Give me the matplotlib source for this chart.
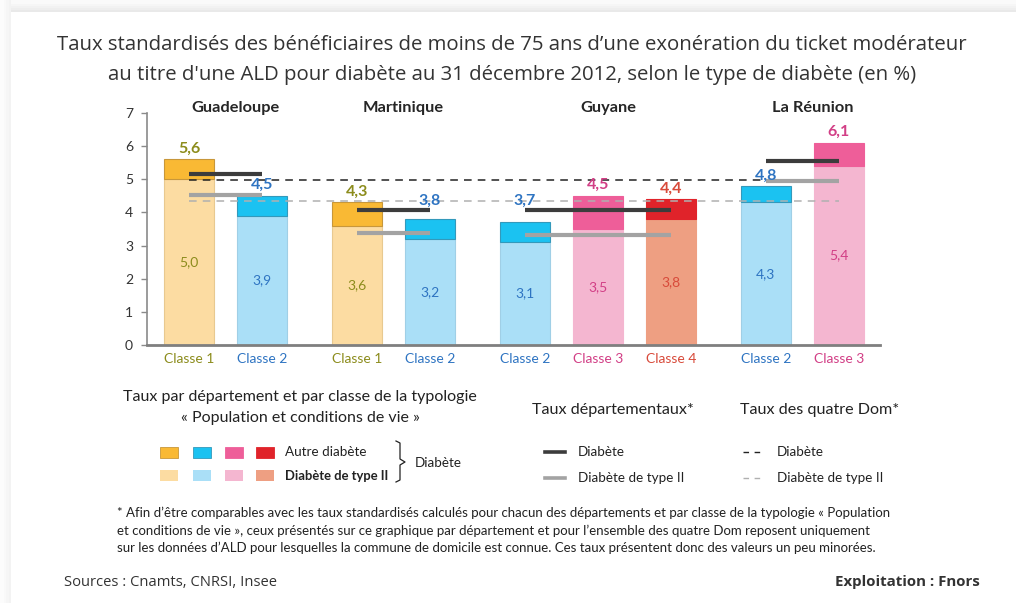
import matplotlib
matplotlib.use("Agg")
import matplotlib.pyplot as plt
from matplotlib.lines import Line2D
from matplotlib.patches import Rectangle

# ---------------- data ----------------
departements = ["Guadeloupe", "Martinique", "Guyane", "La Réunion"]
classes_par_dept = [[1, 2], [1, 2], [2, 3, 4], [2, 3]]
taux_diabete = [[5.6, 4.5], [4.3, 3.8], [3.7, 4.5, 4.4], [4.8, 6.1]]
taux_type2 = [[5.0, 3.9], [3.6, 3.2], [3.1, 3.5, 3.8], [4.3, 5.4]]
labels_diabete = [["5,6", "4,5"], ["4,3", "3,8"], ["3,7", "4,5", "4,4"], ["4,8", "6,1"]]
labels_type2 = [["5,0", "3,9"], ["3,6", "3,2"], ["3,1", "3,5", "3,8"], ["4,3", "5,4"]]
dept_diabete = [5.15, 4.07, 4.08, 5.55]
dept_type2 = [4.54, 3.39, 3.33, 4.94]
dom_diabete = 4.97
dom_type2 = 4.33
yticks = [0, 1, 2, 3, 4, 5, 6, 7]

# ---------------- styles ----------------
dark_col = {1: "#F9B934", 2: "#1BC2F1", 3: "#EE5E99", 4: "#E0232A"}
light_col = {1: "#FCDCA2", 2: "#AADFF7", 3: "#F4B6D0", 4: "#EE9F82"}
dark_edge = {1: "#C8973A", 2: "#3399BB", 3: "#EE5E99", 4: "#E0232A"}
light_edge = {1: "#E8C990", 2: "#A0CFE6", 3: "#F4B6D0", 4: "#EE9F82"}
text_col = {1: "#8C8C1C", 2: "#2E74C2", 3: "#D23F86", 4: "#D84A3A"}

W, H = 1016, 603
fig = plt.figure(figsize=(W / 100, H / 100), dpi=100)
fig.patch.set_facecolor("white")


def fx(x):
    return x / W


def fy(y):
    return 1 - y / H


# card shadow
for i, c in enumerate(["#e9e9e9", "#eeeeee", "#f2f2f2", "#f6f6f6", "#fafafa"]):
    fig.patches.append(Rectangle((fx(0), fy(12 - i * 2)), 1, (12 - i * 2) / H + 0.0,
                                 transform=fig.transFigure, facecolor=c, edgecolor="none", zorder=0))
for i, c in enumerate(["#f3f3f3", "#f6f6f6", "#f9f9f9", "#fcfcfc"]):
    fig.patches.append(Rectangle((0, 0), fx(11 - i * 2.5), 1,
                                 transform=fig.transFigure, facecolor=c, edgecolor="none", zorder=0))

FONT = ["Lato", "DejaVu Sans"]
TFONT = ["Open Sans", "DejaVu Sans"]

# title
fig.text(fx(512), fy(45), "Taux standardisés des bénéficiaires de moins de 75 ans d’une exonération du ticket modérateur",
         ha="center", va="center", fontsize=14.7, color="#333333", family=TFONT)
fig.text(fx(512), fy(75), "au titre d'une ALD pour diabète au 31 décembre 2012, selon le type de diabète (en %)",
         ha="center", va="center", fontsize=14.7, color="#333333", family=TFONT)

# axes
x0, x1 = 147, 880
ytop, ybot = 113, 345
ax = fig.add_axes([fx(x0), fy(ybot), (x1 - x0) / W, (ybot - ytop) / H])
ax.set_facecolor("none")

pos = 0.0
group_pos = []
for g, cls in enumerate(classes_par_dept):
    gp = []
    for k in range(len(cls)):
        gp.append(pos)
        pos += 1.0
    pos += 0.3
    group_pos.append(gp)

bw = 0.68
for g, cls in enumerate(classes_par_dept):
    for k, c in enumerate(cls):
        xp = group_pos[g][k]
        t2 = taux_type2[g][k]
        tot = taux_diabete[g][k]
        ax.bar(xp, t2, width=bw, color=light_col[c], edgecolor=light_edge[c], linewidth=0.8, zorder=2)
        ax.bar(xp, tot - t2, bottom=t2, width=bw, color=dark_col[c], edgecolor=dark_edge[c], linewidth=0.8, zorder=2)
        ax.text(xp, t2 / 2, labels_type2[g][k], ha="center", va="center", fontsize=10, color=text_col[c],
                family=FONT, zorder=5)
        ly = tot + 0.32
        if tot < dept_diabete[g] < tot + 0.45:
            ly = dept_diabete[g] + 0.27
        ax.text(xp, ly, labels_diabete[g][k], ha="center", va="center", fontsize=11.5, color=text_col[c],
                fontweight="bold", family=FONT, zorder=5)
        ax.text(xp, -0.42, f"Classe {c}", ha="center", va="center", fontsize=10, color=text_col[c],
                family=FONT, clip_on=False)
    gc = (group_pos[g][0] + group_pos[g][-1]) / 2 + 0.14
    ax.text(gc, 7.15, departements[g], ha="center", va="center", fontsize=11.8, fontweight="bold",
            color="#262626", family=FONT, clip_on=False)
    ax.plot([group_pos[g][0], group_pos[g][-1]], [dept_diabete[g]] * 2, color="#3c3c3c", lw=3, zorder=4,
            solid_capstyle="butt")
    ax.plot([group_pos[g][0], group_pos[g][-1]], [dept_type2[g]] * 2, color="#a3a3a3", lw=3, zorder=4,
            solid_capstyle="butt")

xa, xb = group_pos[0][0], group_pos[-1][-1]
ax.plot([xa, xb], [dom_diabete] * 2, color="#222222", lw=1.1, ls=(0, (5, 4)), zorder=3)
ax.plot([xa, xb], [dom_type2] * 2, color="#b0b0b0", lw=1.1, ls=(0, (5, 4)), zorder=3)

left_x = group_pos[0][0] - (189 - 147) / 73
right_x = group_pos[0][0] + (880 - 189) / 73
ax.set_xlim(left_x, right_x)
ax.set_ylim(0, 7)
ax.set_yticks(yticks)
ax.set_yticklabels([str(v) for v in yticks], fontsize=10, color="#333333", family=FONT)
ax.set_xticks([])
for s in ["top", "right"]:
    ax.spines[s].set_visible(False)
ax.spines["left"].set_color("#8a8a8a")
ax.spines["left"].set_linewidth(1.2)
ax.spines["bottom"].set_color("#7f7f7f")
ax.spines["bottom"].set_linewidth(2)
ax.tick_params(axis="y", length=4, width=1, color="#8a8a8a", pad=6)

# ---------------- legend area ----------------
fig.text(fx(300), fy(397), "Taux par département et par classe de la typologie", ha="center", va="center",
         fontsize=11.5, color="#222222", family=FONT)
fig.text(fx(300), fy(418), "« Population et conditions de vie »", ha="center", va="center",
         fontsize=11.5, color="#222222", family=FONT)
sq_x = [160, 193, 225, 256]
for i, c in enumerate([1, 2, 3, 4]):
    fig.patches.append(Rectangle((fx(sq_x[i]), fy(458)), 18 / W, 11 / H, transform=fig.transFigure,
                                 facecolor=dark_col[c], edgecolor=dark_edge[c], lw=0.6))
    fig.patches.append(Rectangle((fx(sq_x[i]), fy(481)), 18 / W, 11 / H, transform=fig.transFigure,
                                 facecolor=light_col[c], edgecolor="none", lw=0))
fig.text(fx(285), fy(452), "Autre diabète", ha="left", va="center", fontsize=9.7, color="#222222", family=FONT)
fig.text(fx(285), fy(476), "Diabète de type II", ha="left", va="center", fontsize=9.4, color="#222222",
         fontweight="bold", family=FONT)
bx = [396, 400, 400, 405, 400, 400, 396]
by = [441, 443, 459, 462, 465, 480, 482]
fig.lines.append(Line2D([fx(v) for v in bx], [fy(v) for v in by], transform=fig.transFigure,
                        color="#222222", lw=0.9))
fig.text(fx(415), fy(463), "Diabète", ha="left", va="center", fontsize=9.7, color="#222222", family=FONT)

fig.text(fx(532), fy(410), "Taux départementaux*", ha="left", va="center", fontsize=11.6, color="#222222",
         family=FONT)
fig.text(fx(740), fy(410), "Taux des quatre Dom*", ha="left", va="center", fontsize=11.6, color="#222222",
         family=FONT)
fig.lines.append(Line2D([fx(545), fx(565)], [fy(452)] * 2, transform=fig.transFigure, color="#3c3c3c", lw=2.6))
fig.lines.append(Line2D([fx(545), fx(565)], [fy(478)] * 2, transform=fig.transFigure, color="#a3a3a3", lw=2.6))
fig.text(fx(578), fy(452), "Diabète", ha="left", va="center", fontsize=9.7, color="#222222", family=FONT)
fig.text(fx(578), fy(478), "Diabète de type II", ha="left", va="center", fontsize=9.7, color="#222222", family=FONT)
fig.lines.append(Line2D([fx(743), fx(761)], [fy(452)] * 2, transform=fig.transFigure, color="#222222", lw=1,
                        ls=(0, (4, 4))))
fig.lines.append(Line2D([fx(743), fx(761)], [fy(478)] * 2, transform=fig.transFigure, color="#b0b0b0", lw=1,
                        ls=(0, (4, 4))))
fig.text(fx(777), fy(452), "Diabète", ha="left", va="center", fontsize=9.7, color="#222222", family=FONT)
fig.text(fx(777), fy(478), "Diabète de type II", ha="left", va="center", fontsize=9.7, color="#222222", family=FONT)

# footnote
foot = [
    "* Afin d’être comparables avec les taux standardisés calculés pour chacun des départements et par classe de la typologie « Population",
    "et conditions de vie », ceux présentés sur ce graphique par département et pour l’ensemble des quatre Dom reposent uniquement",
    "sur les données d’ALD pour lesquelles la commune de domicile est connue. Ces taux présentent donc des valeurs un peu minorées.",
]
for i, line in enumerate(foot):
    fig.text(fx(117), fy(513 + i * 17.5), line, ha="left", va="center", fontsize=9.55, color="#222222",
             family=FONT)

fig.text(fx(64), fy(582), "Sources : Cnamts, CNRSI, Insee", ha="left", va="center", fontsize=10.6,
         color="#333333", family=TFONT)
fig.text(fx(980), fy(582), "Exploitation : Fnors", ha="right", va="center", fontsize=10.8,
         color="#333333", fontweight="bold", family=TFONT)

fig.savefig("out.png", dpi=100)
